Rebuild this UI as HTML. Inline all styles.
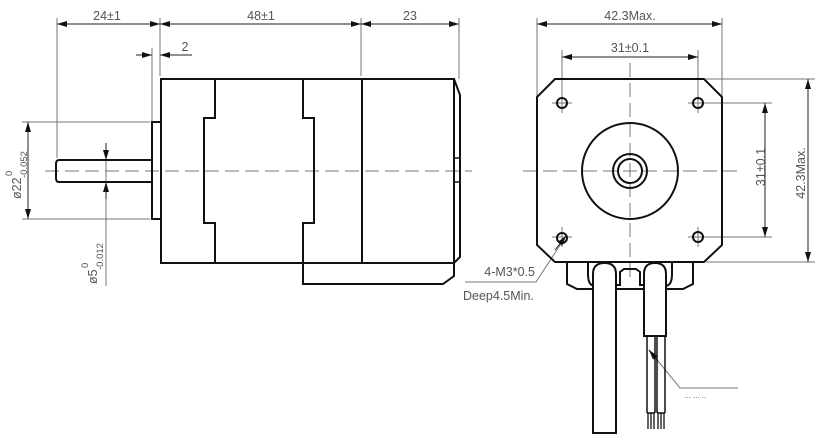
<!DOCTYPE html>
<html><head><meta charset="utf-8"><style>
html,body{margin:0;padding:0;background:#fff;}
svg{display:block;}
text{font-family:"Liberation Sans","DejaVu Sans",sans-serif;fill:#555;}
</style></head><body>
<svg width="825" height="434" viewBox="0 0 825 434" xmlns="http://www.w3.org/2000/svg">
<defs>
<marker id="a" viewBox="0 0 10 6" refX="10" refY="3" markerWidth="10" markerHeight="6" orient="auto-start-reverse" markerUnits="userSpaceOnUse"><path d="M0,0 L10,3 L0,6 z" fill="#111"/></marker>
</defs>
<!-- ===== LEFT VIEW ===== -->
<g stroke="#777" stroke-width="1" fill="none">
 <!-- extension lines -->
 <line x1="57" y1="18" x2="57" y2="158"/>
 <line x1="160" y1="18" x2="160" y2="76"/>
 <line x1="361" y1="18" x2="361" y2="76"/>
 <line x1="459" y1="18" x2="459" y2="79"/>
 <line x1="152" y1="48" x2="152" y2="121"/>
 <line x1="22" y1="122" x2="150" y2="122"/>
 <line x1="22" y1="219" x2="150" y2="219"/>
 <line x1="106" y1="143" x2="106" y2="286"/>
 <!-- center line -->
 <line x1="45" y1="171" x2="472" y2="171" stroke-dasharray="14,6"/>
</g>
<g stroke="#222" stroke-width="1" fill="none">
 <line x1="57" y1="24" x2="160" y2="24" marker-start="url(#a)" marker-end="url(#a)"/>
 <line x1="160" y1="24" x2="361" y2="24" marker-start="url(#a)" marker-end="url(#a)"/>
 <line x1="361" y1="24" x2="459" y2="24" marker-start="url(#a)" marker-end="url(#a)"/>
 <line x1="136" y1="55" x2="152" y2="55" marker-end="url(#a)"/>
 <line x1="192" y1="55" x2="160" y2="55" marker-end="url(#a)"/>
 <line x1="28" y1="122" x2="28" y2="219" marker-start="url(#a)" marker-end="url(#a)"/>
 <line x1="106" y1="143" x2="106" y2="160" marker-end="url(#a)"/>
 <line x1="106" y1="199" x2="106" y2="182" marker-end="url(#a)"/>
</g>
<g font-size="12.5">
 <text x="107" y="20" text-anchor="middle">24±1</text>
 <text x="261" y="20" text-anchor="middle">48±1</text>
 <text x="410" y="20" text-anchor="middle">23</text>
 <text x="185" y="51" text-anchor="middle">2</text>
</g>
<g transform="translate(21,199) rotate(-90)">
 <text x="0" y="0" font-size="12.5">ø22</text>
 <text x="23" y="-9" font-size="9.5">0</text>
 <text x="21" y="6" font-size="9.5">-0.052</text>
</g>
<g transform="translate(97,284) rotate(-90)">
 <text x="0" y="0" font-size="12.5">ø5</text>
 <text x="16" y="-9" font-size="9.5">0</text>
 <text x="14" y="6" font-size="9.5">-0.012</text>
</g>
<g stroke="#111" stroke-width="2" fill="none" stroke-linejoin="miter">
 <rect x="161" y="79" width="293" height="184"/>
 <path d="M215,79 V118 H204 V223 H215 V263"/>
 <path d="M303,79 V118 H314 V223 H303 V284 H443 L454,276 V263"/>
 <line x1="362" y1="79" x2="362" y2="263"/>
 <path d="M454,79 L460,95 V257 L454,263"/>
 <path d="M454,158 H460 M454,182 H460" stroke-width="1.5"/>
 <rect x="152" y="122" width="9" height="97"/>
 <path d="M152,160 H59 Q56,160 56,164 V178 Q56,182 59,182 H152"/>
</g>
<!-- ===== RIGHT VIEW ===== -->
<g stroke="#777" stroke-width="1" fill="none">
 <line x1="537" y1="18" x2="537" y2="96"/>
 <line x1="722" y1="18" x2="722" y2="96"/>
 <line x1="562" y1="50" x2="562" y2="96"/>
 <line x1="698" y1="50" x2="698" y2="96"/>
 <line x1="706" y1="79" x2="815" y2="79"/>
 <line x1="706" y1="262" x2="815" y2="262"/>
 <line x1="702" y1="103" x2="772" y2="103"/>
 <line x1="702" y1="237" x2="772" y2="237"/>
 <line x1="523" y1="171" x2="738" y2="171" stroke-dasharray="14,6"/>
 <line x1="630" y1="63" x2="630" y2="280" stroke-dasharray="14,6"/>
 <path d="M552,103 H572 M562,93 V113 M688,103 H708 M698,93 V113 M552,237 H572 M562,227 V247 M688,237 H708 M698,227 V247"/>
 <path d="M626,171 H634 M630,167 V175"/>
 <!-- leaders -->
 <path d="M566,236 L536,282 H465"/>
 <path d="M649,350 L680,388 H738"/>
</g>
<g stroke="#222" stroke-width="1" fill="none">
 <line x1="537" y1="24" x2="722" y2="24" marker-start="url(#a)" marker-end="url(#a)"/>
 <line x1="562" y1="57" x2="698" y2="57" marker-start="url(#a)" marker-end="url(#a)"/>
 <line x1="765" y1="103" x2="765" y2="237" marker-start="url(#a)" marker-end="url(#a)"/>
 <line x1="808" y1="79" x2="808" y2="262" marker-start="url(#a)" marker-end="url(#a)"/>
 <line x1="555" y1="250" x2="566" y2="236" marker-end="url(#a)"/>
 <line x1="658" y1="361" x2="649" y2="350" marker-end="url(#a)"/>
</g>
<g font-size="12.5">
 <text x="630" y="20" text-anchor="middle">42.3Max.</text>
 <text x="630" y="52" text-anchor="middle">31±0.1</text>
 <text x="535" y="276" text-anchor="end">4-M3*0.5</text>
 <text x="463" y="300">Deep4.5Min.</text>
</g>
<text transform="translate(765,167) rotate(-90)" font-size="12.5" text-anchor="middle">31±0.1</text>
<text transform="translate(805,173) rotate(-90)" font-size="12.5" text-anchor="middle">42.3Max.</text>
<g stroke="#111" stroke-width="2" fill="none">
 <path d="M555,79 H704 L722,97 V245 L704,262 H555 L537,245 V97 Z"/>
 <circle cx="562" cy="103" r="5"/>
 <circle cx="698" cy="103" r="5"/>
 <circle cx="562" cy="238" r="5"/>
 <circle cx="698" cy="237" r="5"/>
 <circle cx="630" cy="171" r="48"/>
 <circle cx="630" cy="171" r="17"/>
 <circle cx="630" cy="171" r="12"/>
 <!-- connector -->
 <path d="M567,263 V284 L577,289 H683 L693,284 V263"/>
 <path d="M588,263 V274 Q588,285 594,286"/>
 <path d="M672,263 V274 Q672,285 666,286"/>
 <path d="M616,285 H620 V272 L624,269 H636 L640,272 V285 H644"/>
 <!-- cables -->
 <path d="M593,433 V274 Q593,263 604.5,263 Q616,263 616,274 V433 Z" fill="#fff"/>
 <path d="M644,336 V274 Q644,263 655,263 Q666,263 666,274 V336 Z" fill="#fff"/>
 <path d="M647,336 V413 M655,336 V413 M657,336 V413 M665,336 V413 M647,413 H655 M657,413 H665" stroke-width="1.5"/>
</g>
<g stroke="#111" stroke-width="2.5">
 <path d="M648,413 V429 M651,413 V429 M654,413 V429 M658,413 V429 M661,413 V429 M664,413 V429" stroke-width="1.3"/>
</g>
<text x="684" y="398" font-size="8" fill="#ddd">... ... ..</text>
</svg>
</body></html>
